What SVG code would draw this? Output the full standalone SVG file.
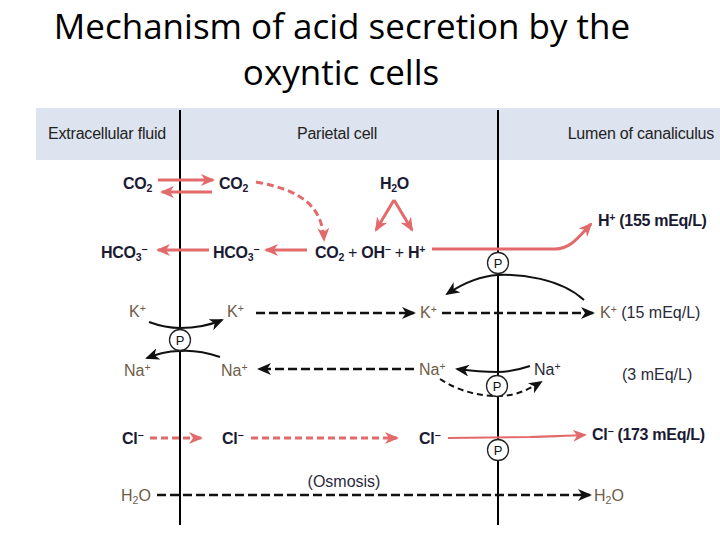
<svg xmlns="http://www.w3.org/2000/svg" width="720" height="540" viewBox="0 0 720 540">
<style>
.title{font-family:"Open Sans","Liberation Sans",sans-serif;font-size:35px;fill:#000;text-anchor:middle}
.hdr{font-family:"Liberation Sans",Arial,sans-serif;font-size:16px;fill:#222;letter-spacing:-0.2px}
.f{font-family:"Liberation Sans",Arial,sans-serif;font-size:16px;font-weight:bold;fill:#1a1a33;letter-spacing:-0.3px}
.ion{font-family:"Liberation Sans",Arial,sans-serif;font-size:16px;fill:#6e5c48}
.lbl{font-family:"Liberation Sans",Arial,sans-serif;font-size:16px;fill:#2a2a3a}
.sub{font-size:10.5px}
.red{stroke:#e26a6a;stroke-width:3;fill:none}
.redthin{stroke:#e26a6a;stroke-width:2.2;fill:none}
.reddash{stroke:#e26a6a;stroke-width:3;fill:none;stroke-dasharray:7 4}
.blk{stroke:#111;stroke-width:2;fill:none}
.blkdash{stroke:#111;stroke-width:2.5;fill:none;stroke-dasharray:9 4}
.blkdash2{stroke:#111;stroke-width:2;fill:none;stroke-dasharray:6 4}
.mem{stroke:#000;stroke-width:2}
.pc{fill:#fff;stroke:#222;stroke-width:1.3}
.pt{font-family:"Liberation Sans",Arial,sans-serif;font-size:13px;fill:#111;text-anchor:middle}
</style>
<defs>
<marker id="ar" markerUnits="userSpaceOnUse" markerWidth="14" markerHeight="12" refX="12" refY="6" orient="auto"><path d="M0,0 L14,6 L0,12 L4,6 Z" fill="#e26a6a"/></marker>
<marker id="ab" markerUnits="userSpaceOnUse" markerWidth="14" markerHeight="12" refX="12" refY="6" orient="auto"><path d="M0,0 L14,6 L0,12 L4,6 Z" fill="#111"/></marker>
</defs>
<rect width="720" height="540" fill="#fff"/>
<text class="title" x="342" y="39">Mechanism of acid secretion by the</text>
<text class="title" x="341" y="85">oxyntic cells</text>

<g id="header">
<rect x="36" y="108" width="684" height="52" fill="#dde3ef"/>
<text class="hdr" x="48" y="139">Extracellular fluid</text>
<text class="hdr" x="337" y="139" text-anchor="middle">Parietal cell</text>
<text class="hdr" x="714" y="139" text-anchor="end">Lumen of canaliculus</text>
</g>

<g id="membranes">
<line class="mem" x1="180" y1="110" x2="180" y2="525"/>
<line class="mem" x1="498" y1="110" x2="498" y2="525"/>
</g>

<g id="connectors">
<line class="red" x1="158" y1="180" x2="213" y2="180" marker-end="url(#ar)"/>
<line class="red" x1="212" y1="192" x2="162" y2="192" marker-end="url(#ar)"/>
<path class="reddash" d="M256,182 C300,190 322,205 324,240" marker-end="url(#ar)"/>
<line class="red" x1="209" y1="250" x2="158" y2="250" marker-end="url(#ar)"/>
<line class="red" x1="307" y1="250" x2="266" y2="250" marker-end="url(#ar)"/>
<line class="red" x1="394" y1="200" x2="376" y2="230" marker-end="url(#ar)"/>
<line class="red" x1="394" y1="200" x2="412" y2="230" marker-end="url(#ar)"/>
<path class="red" d="M432,249 L555,249 C570,249 578,238 591,224" marker-end="url(#ar)"/>
<path class="blk" d="M584,300 C560,278 520,274 498,275 C478,276 462,284 447,294" marker-end="url(#ab)"/>
<line class="blkdash" x1="256" y1="313" x2="414" y2="313" marker-end="url(#ab)"/>
<line class="blkdash" x1="442" y1="313" x2="593" y2="313" marker-end="url(#ab)"/>
<path class="blk" d="M149,322 C160,326 170,328 180,328 C195,328 208,326 222,320" marker-end="url(#ab)"/>
<path class="blk" d="M220,357 C205,352 192,350 180,351 C166,351 158,354 147,358" marker-end="url(#ab)"/>
<line class="blkdash" x1="414" y1="369" x2="259" y2="369" marker-end="url(#ab)"/>
<path class="blk" d="M530,366 C518,370 508,372 498,372 C485,372 472,371 457,369" marker-end="url(#ab)"/>
<path class="blkdash2" d="M440,379 C460,392 480,396 498,396 C515,396 528,390 541,382" marker-end="url(#ab)"/>
<line class="reddash" x1="150" y1="438" x2="201" y2="438" marker-end="url(#ar)"/>
<line class="reddash" x1="251" y1="438" x2="397" y2="438" marker-end="url(#ar)"/>
<path class="redthin" d="M448,438 L530,437 C555,436 570,436 585,435" marker-end="url(#ar)"/>
<line class="blkdash" x1="157" y1="495" x2="590" y2="495" marker-end="url(#ab)"/>
</g>

<g id="pumps">
<g id="pump-h"><circle class="pc" cx="498" cy="263" r="10.5"/><text class="pt" x="498" y="268">P</text></g>
<g id="pump-na-k-left"><circle class="pc" cx="180" cy="340" r="10.5"/><text class="pt" x="180" y="345">P</text></g>
<g id="pump-na"><circle class="pc" cx="497" cy="386" r="10.5"/><text class="pt" x="497" y="391">P</text></g>
<g id="pump-cl"><circle class="pc" cx="498" cy="450" r="10.5"/><text class="pt" x="498" y="455">P</text></g>
</g>

<g id="n-co2-ecf"><text class="f" x="123" y="189">CO<tspan class="sub" dy="3">2</tspan></text></g>
<g id="n-co2-cell"><text class="f" x="219" y="189">CO<tspan class="sub" dy="3">2</tspan></text></g>
<g id="n-h2o-cell"><text class="f" x="380" y="189">H<tspan class="sub" dy="3">2</tspan><tspan dy="-3">O</tspan></text></g>
<g id="n-hco3-ecf"><text class="f" x="101" y="258">HCO<tspan class="sub" dy="3">3</tspan><tspan dy="-8" class="sub">−</tspan></text></g>
<g id="n-hco3-cell"><text class="f" x="213" y="258">HCO<tspan class="sub" dy="3">3</tspan><tspan dy="-8" class="sub">−</tspan></text></g>
<g id="n-reaction"><text class="f" x="315" y="258">CO<tspan class="sub" dy="3">2</tspan><tspan dy="-3" font-weight="normal"> + </tspan>OH<tspan class="sub" dy="-5">−</tspan><tspan dy="5" font-weight="normal"> + </tspan>H<tspan class="sub" dy="-5">+</tspan></text></g>
<g id="n-h-lumen"><text class="f" x="598" y="226">H<tspan class="sub" dy="-5">+</tspan><tspan dy="5"> (155 mEq/L)</tspan></text></g>
<g id="n-k-ecf"><text class="ion" x="129" y="317">K<tspan class="sub" dy="-5">+</tspan></text></g>
<g id="n-k-cell1"><text class="ion" x="227" y="317">K<tspan class="sub" dy="-5">+</tspan></text></g>
<g id="n-k-cell2"><text class="ion" x="420" y="318">K<tspan class="sub" dy="-5">+</tspan></text></g>
<g id="n-k-lumen"><text class="ion" x="600" y="318">K<tspan class="sub" dy="-5">+</tspan><tspan dy="5" fill="#2a2a3a"> (15 mEq/L)</tspan></text></g>
<g id="n-na-ecf"><text class="ion" x="124" y="376">Na<tspan class="sub" dy="-5">+</tspan></text></g>
<g id="n-na-cell1"><text class="ion" x="221" y="376">Na<tspan class="sub" dy="-5">+</tspan></text></g>
<g id="n-na-cell2"><text class="ion" x="419" y="375">Na<tspan class="sub" dy="-5">+</tspan></text></g>
<g id="n-na-lumen"><text class="lbl" x="534" y="375">Na<tspan class="sub" dy="-5">+</tspan></text></g>
<g id="n-na-conc"><text class="lbl" x="622" y="380">(3 mEq/L)</text></g>
<g id="n-cl-ecf"><text class="f" x="122" y="444">Cl<tspan class="sub" dy="-5">−</tspan></text></g>
<g id="n-cl-cell1"><text class="f" x="222" y="444">Cl<tspan class="sub" dy="-5">−</tspan></text></g>
<g id="n-cl-cell2"><text class="f" x="419" y="444">Cl<tspan class="sub" dy="-5">−</tspan></text></g>
<g id="n-cl-lumen"><text class="f" x="592" y="440">Cl<tspan class="sub" dy="-5">−</tspan><tspan dy="5"> (173 mEq/L)</tspan></text></g>
<g id="n-osmosis"><text class="lbl" x="344" y="487" text-anchor="middle">(Osmosis)</text></g>
<g id="n-h2o-ecf"><text class="ion" x="121" y="501">H<tspan class="sub" dy="3">2</tspan><tspan dy="-3">O</tspan></text></g>
<g id="n-h2o-lumen"><text class="ion" x="594" y="501">H<tspan class="sub" dy="3">2</tspan><tspan dy="-3">O</tspan></text></g>
</svg>
